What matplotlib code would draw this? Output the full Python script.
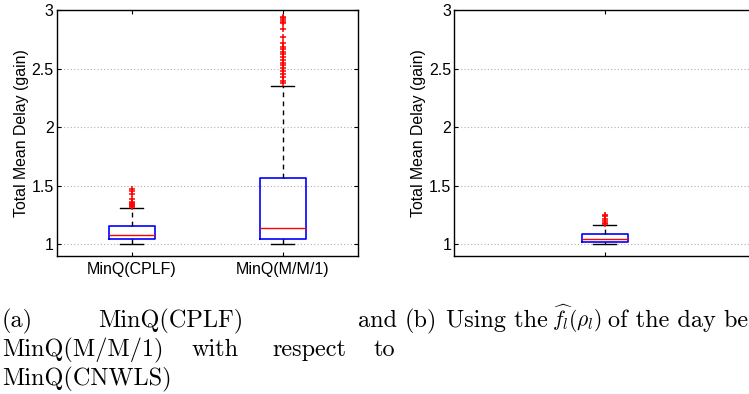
import numpy as np
import matplotlib
matplotlib.use("Agg")
import matplotlib.pyplot as plt

plt.rcParams.update({
    "font.family": "Liberation Sans",
    "mathtext.fontset": "cm",
    "axes.linewidth": 1.0,
})

# --- data ----------------------------------------------------------------
left_labels = ["MinQ(CPLF)", "MinQ(M/M/1)"]
left_med = [1.078, 1.142]
left_q1 = [1.044, 1.047]
left_q3 = [1.156, 1.569]
left_whislo = [1.005, 1.005]
left_whishi = [1.309, 2.351]
cplf_fliers = [1.32, 1.33, 1.335, 1.34, 1.35, 1.36, 1.39, 1.43, 1.455, 1.47]
mm1_fliers = [2.374, 2.396, 2.425, 2.453, 2.481, 2.502, 2.530, 2.550, 2.573,
              2.601, 2.624, 2.643, 2.664, 2.686, 2.720, 2.771, 2.834, 2.886,
              2.899, 2.914, 2.928, 2.942]

right_med = [1.042]
right_q1 = [1.023]
right_q3 = [1.085]
right_whislo = [1.005]
right_whishi = [1.168]
right_fliers = [1.17, 1.18, 1.20, 1.22, 1.24, 1.25]

y_ticks = [1, 1.5, 2, 2.5, 3]
y_ticklabels = ["1", "1.5", "2", "2.5", "3"]
ylabel = "Total Mean Delay (gain)"


def make_stats(med, q1, q3, lo, hi, fliers):
    out = []
    for i in range(len(med)):
        out.append({"med": med[i], "q1": q1[i], "q3": q3[i],
                    "whislo": lo[i], "whishi": hi[i], "fliers": fliers[i]})
    return out


def draw_box(ax, stats, width):
    ax.bxp(stats, positions=range(1, len(stats) + 1), widths=width,
           capwidths=width / 2,
           boxprops=dict(color="#0000ff", linewidth=1.2),
           medianprops=dict(color="#ff0000", linewidth=1.0),
           whiskerprops=dict(color="black", linestyle=(0, (3.5, 3)), linewidth=1.0),
           capprops=dict(color="black", linewidth=1.0),
           flierprops=dict(marker="+", markeredgecolor="#ff0000",
                           markersize=4.5, markeredgewidth=1.1))


def style_axis(ax):
    ax.set_ylim(0.9, 3)
    ax.set_yticks(y_ticks)
    ax.set_yticklabels(y_ticklabels)
    ax.tick_params(direction="in", length=3, width=0.8, top=True, right=True,
                   labelsize=11.5, pad=2)
    ax.tick_params(axis="x", pad=4)
    ax.yaxis.grid(True, linestyle=(0, (1, 2)), color="#b0b0b0", linewidth=0.8)
    ax.set_axisbelow(True)
    ax.set_ylabel(ylabel, fontsize=11.4, labelpad=2)


W, H = 749, 394
fig = plt.figure(figsize=(W / 100, H / 100), dpi=100)

ax1 = fig.add_axes([56.5 / W, 1 - 256 / H, 301.5 / W, 246 / H])
draw_box(ax1, make_stats(left_med, left_q1, left_q3, left_whislo, left_whishi,
                         [cplf_fliers, mm1_fliers]), 0.305)
ax1.set_xlim(0.5, 2.5)
style_axis(ax1)
ax1.set_xticks([1, 2])
ax1.set_xticklabels(left_labels)

ax2 = fig.add_axes([454 / W, 1 - 256 / H, 301.5 / W, 246 / H])
draw_box(ax2, make_stats(right_med, right_q1, right_q3, right_whislo, right_whishi,
                         [right_fliers]), 0.153)
ax2.set_xlim(0.5, 1.5)
style_axis(ax2)
ax2.set_xticks([1])
ax2.set_xticklabels([""])

# captions (justified like the LaTeX subcaption)
cap = dict(family="cmr10", fontsize=17.5, va="baseline")


def put(x, y, s, ha="left", **kw):
    opts = dict(cap)
    opts.update(kw)
    fig.text(x / W, 1 - y / H, s, ha=ha, **opts)


put(2, 327, "(a)")
put(98, 327, "MinQ(CPLF)")
put(397, 327, "and", ha="right")
put(2, 356, "MinQ(M/M/1)")
put(192, 356, "with")
put(272, 356, "respect")
put(395, 356, "to", ha="right")
put(2, 385, "MinQ(CNWLS)")
put(405, 327, "(b)")
put(446, 327, "Using the")
put(552, 327, r"$\widehat{f_l}(\rho_l)$", fontsize=15.5)
put(748, 327, "of the day be", ha="right")

fig.savefig("out.png", dpi=100)
